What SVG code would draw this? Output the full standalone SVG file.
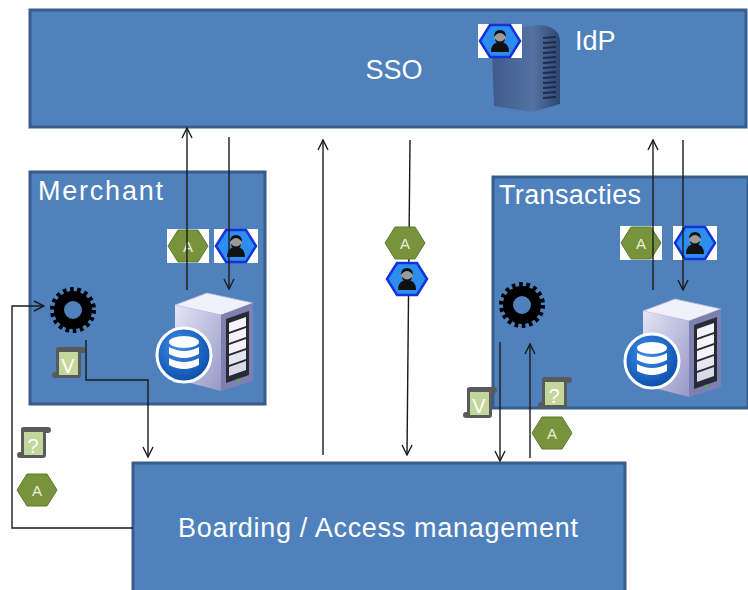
<svg xmlns="http://www.w3.org/2000/svg" width="748" height="590" viewBox="0 0 748 590">
  <style>
    .box { fill: #4F81BD; stroke: #385D8A; stroke-width: 3; }
    .label { font-family: "Liberation Sans", Arial, sans-serif; font-size: 27px; fill: #FFFFFF; }
    .wire { fill: none; stroke: #1A1A1A; stroke-width: 1.4; }
    .letter { font-family: "Liberation Sans", Arial, sans-serif; font-size: 15px; fill: #E8F0D8; text-anchor: middle; }
    .scrollLetter { font-family: "Liberation Sans", Arial, sans-serif; font-size: 20px; fill: #FFFFFF; text-anchor: middle; }
  </style>
  <defs>
    <marker id="arrow" viewBox="0 0 12 12" refX="11" refY="6" markerWidth="12" markerHeight="12" markerUnits="userSpaceOnUse" orient="auto">
      <path d="M1,1 L11,6 L1,11" fill="none" stroke="#1A1A1A" stroke-width="1.4"/>
    </marker>
    <linearGradient id="towerGrad" x1="0" y1="0" x2="1" y2="0">
      <stop offset="0" stop-color="#3E5B8C"/>
      <stop offset="0.6" stop-color="#5572A4"/>
      <stop offset="1" stop-color="#2E4670"/>
    </linearGradient>
    <linearGradient id="sideGrad" x1="0" y1="0" x2="1" y2="1">
      <stop offset="0" stop-color="#E4E5F6"/>
      <stop offset="1" stop-color="#9799C6"/>
    </linearGradient>
    <radialGradient id="dbGrad" cx="0.4" cy="0.35" r="0.7">
      <stop offset="0" stop-color="#3C8CE8"/>
      <stop offset="1" stop-color="#0A4CA8"/>
    </radialGradient>

    <!-- green "A" hexagon -->
    <g id="hexA">
      <polygon points="-20,0 -10,-16 10,-16 20,0 10,16 -10,16" fill="#77933C" stroke="#5E7A2C" stroke-width="1"/>
      <text x="0" y="5.5" class="letter">A</text>
    </g>
    <g id="hexABadge">
      <rect x="-21" y="-17" width="42" height="34" fill="#FFFFFF"/>
      <use href="#hexA"/>
    </g>

    <!-- blue user hexagon -->
    <g id="hexUser">
      <polygon points="-20,0 -10,-16 10,-16 20,0 10,16 -10,16" fill="#2E8EF0" stroke="#1432D8" stroke-width="2.5"/>
      <path d="M-9,11 Q-9,1 0,1 Q9,1 9,11 Z" fill="#111111"/>
      <circle cx="0" cy="-4" r="6" fill="#9A9A9A"/>
      <path d="M-6,-4 Q-6,-11 0,-11 Q6,-11 6,-4 Q3,-8 0,-8 Q-3,-8 -6,-4 Z" fill="#111111"/>
      <path d="M-5,-2 Q0,3 5,-2 Q5,2 0,3 Q-5,2 -5,-2 Z" fill="#111111"/>
    </g>
    <g id="hexUserBadge">
      <rect x="-22" y="-17" width="44" height="34" fill="#FFFFFF"/>
      <use href="#hexUser"/>
    </g>

    <!-- gear -->
    <g id="gear">
      <circle r="20.5" fill="none" stroke="#000000" stroke-width="5" stroke-dasharray="3.6 3.56"/>
      <circle r="14" fill="none" stroke="#000000" stroke-width="10"/>
    </g>

    <!-- scroll document -->
    <g id="scroll">
      <path d="M3,2 Q3,0 6,0 L30,0 Q33,0 33,3 Q33,6 30,6 L28,6 L28,28 Q28,31 25,31 L2,31 Q-1,31 -1,28 Q-1,25 2,25 L3,25 Z" fill="#5A5A5A"/>
      <rect x="6" y="5" width="19" height="23" fill="#C3D69B"/>
    </g>

    <!-- server with database emblem -->
    <g id="server">
      <polygon points="0,14 32,2 78,12 46,24" fill="#F0F1FA" stroke="#B8BAD8" stroke-width="0.8"/>
      <polygon points="0,14 46,24 46,100 0,88" fill="url(#sideGrad)"/>
      <polygon points="46,24 78,12 78,90 46,100" fill="#7E80B0"/>
      <polygon points="51,28 74,20 74,84 51,92" fill="#2A2A36"/>
      <polygon points="54,32 71,26 71,35 54,41" fill="#F4F4FA"/>
      <polygon points="54,43 71,37 71,46 54,52" fill="#F4F4FA"/>
      <polygon points="54,54 71,48 71,57 54,63" fill="#F4F4FA"/>
      <polygon points="54,65 71,59 71,68 54,74" fill="#E6E6F0"/>
      <polygon points="54,76 71,70 71,79 54,85" fill="#DADAE6"/>
      <circle cx="63" cy="89" r="1.5" fill="#38C040"/>
      <circle cx="9" cy="64" r="27" fill="url(#dbGrad)" stroke="#FFFFFF" stroke-width="3"/>
      <ellipse cx="9" cy="51" rx="15" ry="6" fill="#FFFFFF"/>
      <path d="M-6,56 Q9,64 24,56 L24,63 Q9,71 -6,63 Z" fill="#FFFFFF"/>
      <path d="M-6,67 Q9,75 24,67 L24,74 Q9,82 -6,74 Z" fill="#FFFFFF"/>
    </g>
  </defs>

  <!-- SSO -->
  <g id="sso">
    <rect class="box" x="30" y="10" width="716" height="117"/>
    <text class="label" x="394" y="79" text-anchor="middle" font-size="24">SSO</text>
  </g>

  <!-- IdP -->
  <g id="idp">
    <path d="M492,50 Q492,33 510,29 L536,25 Q560,25 560,42 L560,104 L532,112 L494,106 Z" fill="url(#towerGrad)"/>
    <g stroke="#1C2C4A" stroke-width="2">
      <line x1="543" y1="38" x2="556" y2="37"/>
      <line x1="543" y1="43" x2="556" y2="42"/>
      <line x1="543" y1="48" x2="556" y2="47"/>
      <line x1="543" y1="53" x2="556" y2="52"/>
      <line x1="543" y1="58" x2="556" y2="57"/>
      <line x1="543" y1="63" x2="556" y2="62"/>
      <line x1="543" y1="68" x2="556" y2="67"/>
      <line x1="543" y1="73" x2="556" y2="72"/>
      <line x1="543" y1="78" x2="556" y2="77"/>
      <line x1="543" y1="83" x2="556" y2="82"/>
      <line x1="543" y1="88" x2="556" y2="87"/>
      <line x1="543" y1="93" x2="556" y2="92"/>
      <line x1="543" y1="98" x2="556" y2="97"/>
    </g>
    <use href="#hexUserBadge" x="500" y="41"/>
    <text class="label" x="575" y="50" font-size="25">IdP</text>
  </g>

  <!-- Merchant -->
  <g id="merchant">
    <rect class="box" x="30" y="172" width="235" height="232"/>
    <text class="label" x="38" y="200" textLength="125">Merchant</text>
    <use href="#hexABadge" x="188" y="246"/>
    <use href="#hexUserBadge" x="236" y="246"/>
    <use href="#gear" x="73" y="310"/>
    <use href="#scroll" x="53" y="347"/>
    <text class="scrollLetter" x="68" y="373">V</text>
    <use href="#server" x="175" y="291"/>
  </g>

  <!-- tokens beside the Merchant box -->
  <g id="merchant-tokens">
    <use href="#scroll" x="18" y="427"/>
    <text class="scrollLetter" x="33" y="453">?</text>
    <use href="#hexA" x="37" y="490"/>
  </g>

  <!-- Transacties -->
  <g id="transacties">
    <rect class="box" x="493" y="177" width="255" height="231"/>
    <text class="label" x="499" y="204" textLength="142">Transacties</text>
    <use href="#hexABadge" x="641" y="243"/>
    <use href="#hexUserBadge" x="695" y="243"/>
    <use href="#gear" x="522" y="305"/>
    <use href="#server" x="643" y="297"/>
  </g>

  <!-- tokens beside the Transacties box -->
  <g id="transacties-tokens">
    <use href="#scroll" x="464" y="387"/>
    <text class="scrollLetter" x="479" y="413">V</text>
    <use href="#scroll" x="539" y="377"/>
    <text class="scrollLetter" x="554" y="403">?</text>
    <use href="#hexA" x="552" y="433"/>
  </g>

  <!-- Boarding / Access management -->
  <g id="boarding">
    <rect class="box" x="133" y="463" width="492" height="140"/>
    <text class="label" x="378" y="537" text-anchor="middle" textLength="400">Boarding / Access management</text>
  </g>

  <!-- connectors -->
  <g id="connectors">
    <line class="wire" x1="187" y1="290" x2="187" y2="128" marker-end="url(#arrow)"/>
    <line class="wire" x1="229" y1="137" x2="229" y2="289" marker-end="url(#arrow)"/>
    <line class="wire" x1="323" y1="455" x2="323" y2="140" marker-end="url(#arrow)"/>
    <line class="wire" x1="410" y1="140" x2="407" y2="455" marker-end="url(#arrow)"/>
    <line class="wire" x1="653" y1="290" x2="653" y2="140" marker-end="url(#arrow)"/>
    <line class="wire" x1="683" y1="140" x2="683" y2="290" marker-end="url(#arrow)"/>
    <polyline class="wire" points="86,340 86,380 148,380 148,457" marker-end="url(#arrow)"/>
    <polyline class="wire" points="133,528 12,528 12,306 44,306" marker-end="url(#arrow)"/>
    <line class="wire" x1="500" y1="342" x2="500" y2="461" marker-end="url(#arrow)"/>
    <line class="wire" x1="530" y1="458" x2="530" y2="344" marker-end="url(#arrow)"/>
  </g>

  <!-- tokens riding on the SSO link -->
  <g id="sso-tokens">
    <use href="#hexA" x="405" y="243"/>
    <use href="#hexUser" x="407" y="279"/>
  </g>
</svg>
